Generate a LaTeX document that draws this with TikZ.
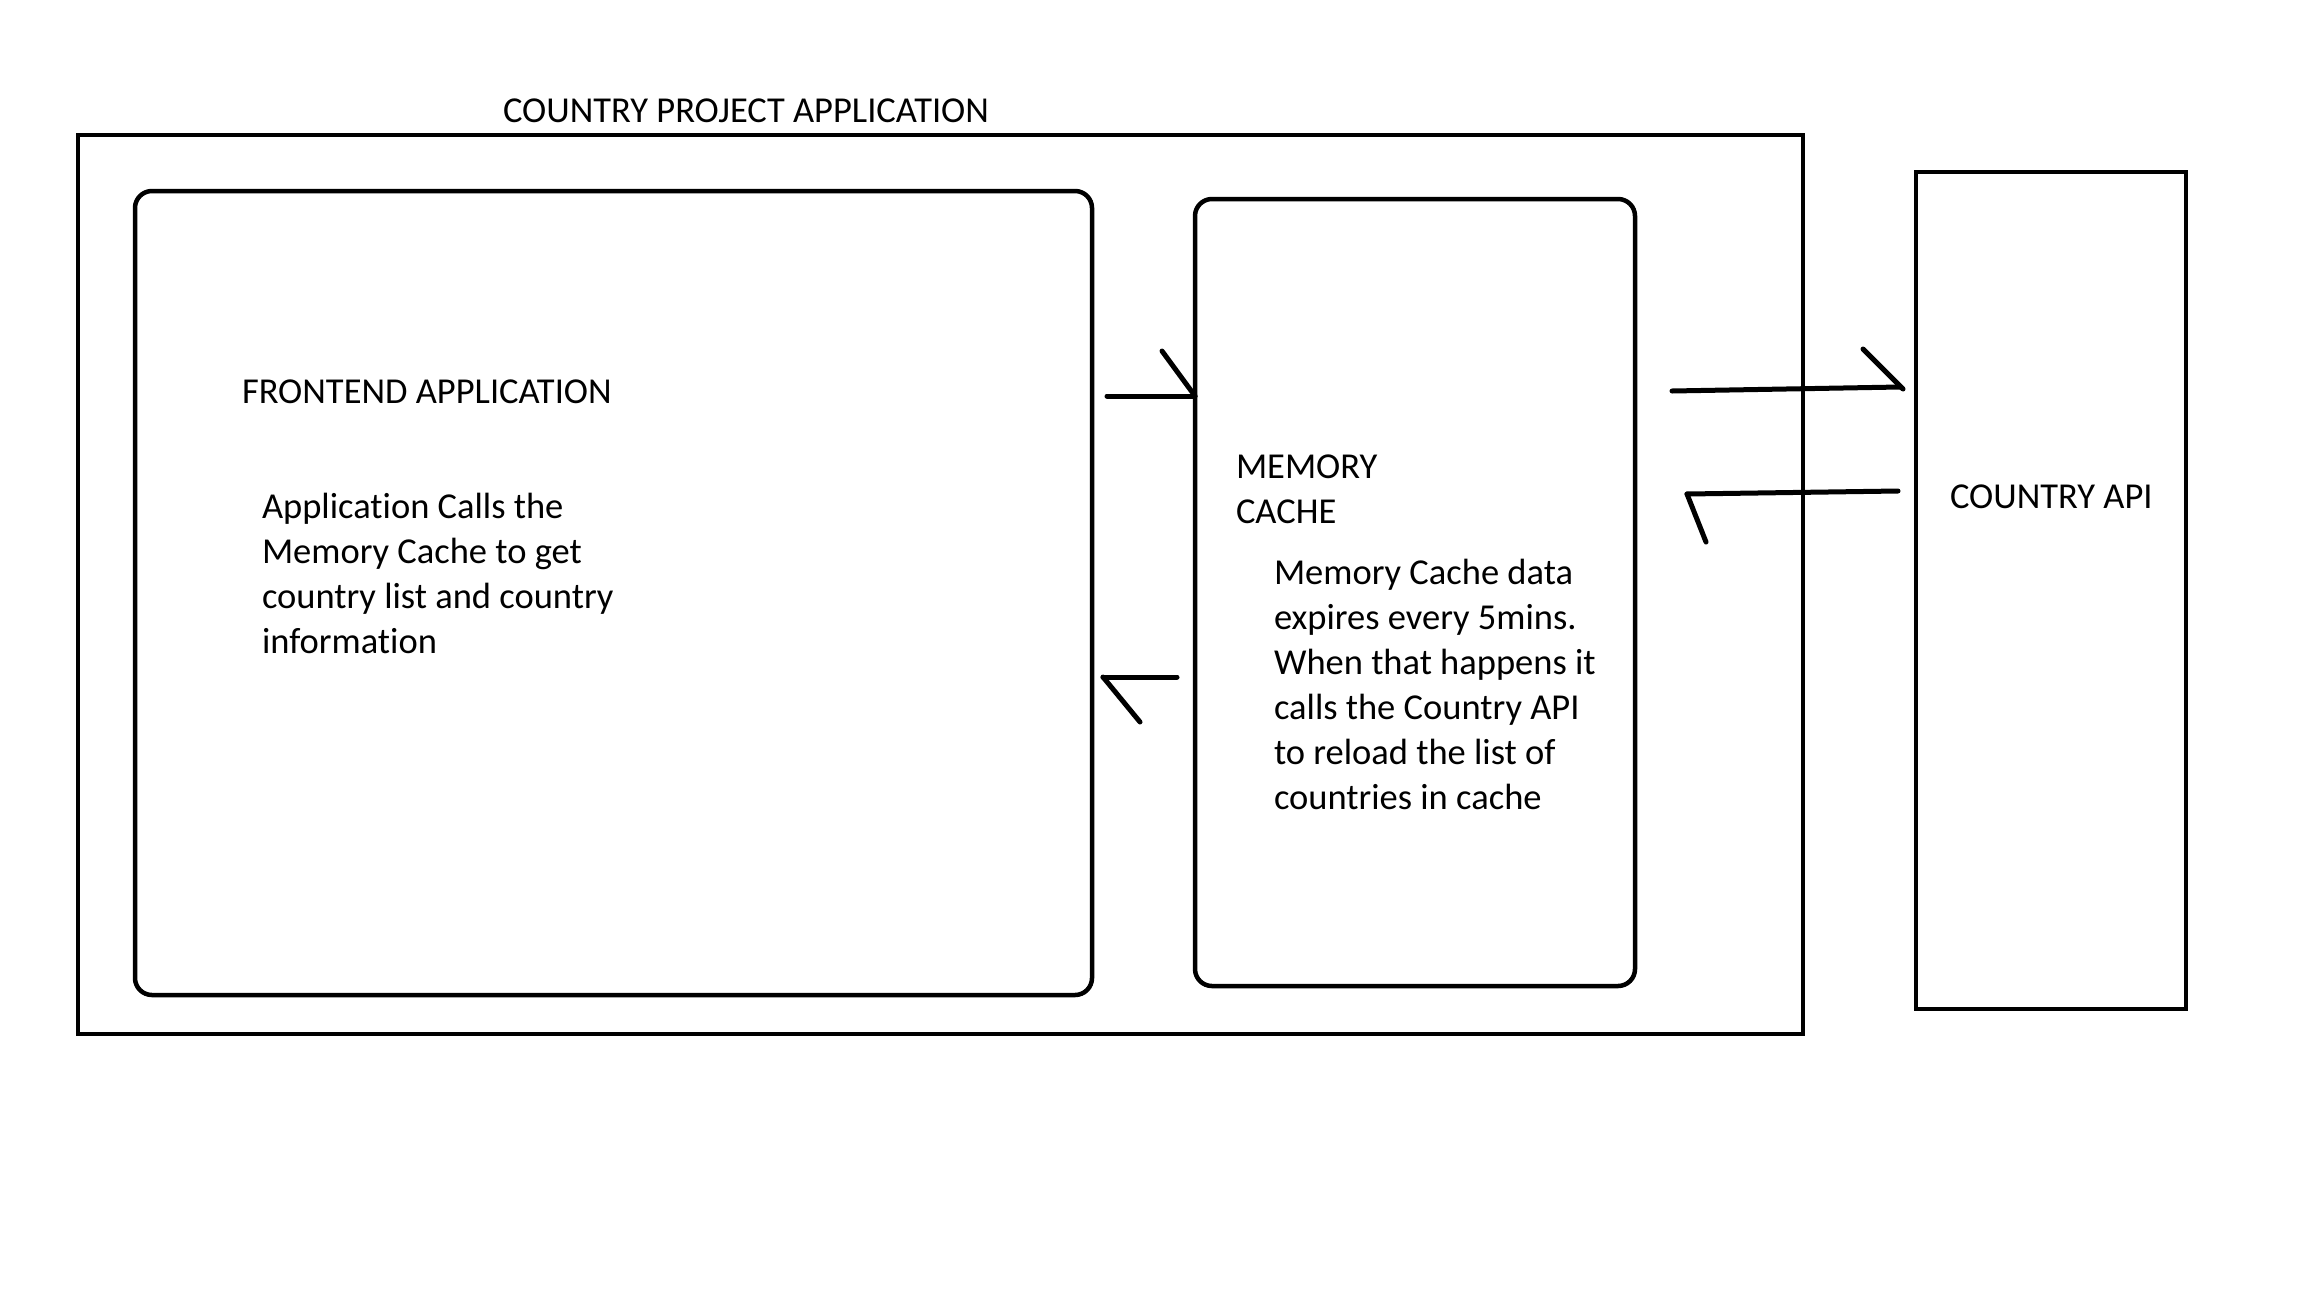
\documentclass[tikz,border=0pt]{standalone}
\usepackage{fontspec}
\setmainfont{Carlito}[Ligatures={NoCommon}]
\begin{document}
\begin{tikzpicture}[x=1pt,y=-1pt,
  box/.style={draw=black, line width=4.5pt, inner sep=0pt, outer sep=0pt, anchor=north west},
  rbox/.style={box, rounded corners=17pt},
  arr/.style={draw=black, line width=5pt, line cap=round},
  lbl/.style={font=\fontsize{36.5}{45}\selectfont, inner sep=0pt, outer sep=0pt, anchor=base west, align=left}]
\useasboundingbox[fill=white] (0,0) rectangle (2304,1296);
% boxes
\node[box, minimum width=1725pt, minimum height=899pt] (outer) at (78,135) {};
\node[rbox, minimum width=957pt, minimum height=804pt] (fe) at (135,191) {};
\node[rbox, minimum width=440pt, minimum height=787pt] (mc) at (1195,199) {};
\node[box, minimum width=270pt, minimum height=837pt] (api) at (1916,172) {};
% texts (anchor at the baseline of the last line)
\node[lbl] (title) at (503,122) {COUNTRY PROJECT APPLICATION};
\node[lbl] (fetitle) at (242,403) {FRONTEND APPLICATION};
\node[lbl] (fetext) at (262,653) {Application Calls the\\Memory Cache to get\\country list and country\\information};
\node[lbl] (mctitle) at (1236,523) {MEMORY\\CACHE};
\node[lbl] (mctext) at (1274,809) {Memory Cache data\\expires every 5mins.\\When that happens it\\calls the Country API\\to reload the list of\\countries in cache};
\node[lbl] (apititle) at (1950,508) {COUNTRY API};
% arrow coordinates
\coordinate (a1s) at (1107,396);
\coordinate (a1h) at (1162,351);
\coordinate (a2s) at (1177,677);
\coordinate (a2e) at (1103,677);
\coordinate (a2h) at (1140,722);
\coordinate (a3s) at (1672,391);
\coordinate (a3h) at (1863,349);
\coordinate (a4s) at (1898,491);
\coordinate (a4e) at (1687,494);
\coordinate (a4h) at (1706,542);
% arrows
\draw[arr] (a1s) -- (mc.west |- a1s);
\draw[arr] (a1h) -- (mc.west |- a1s);
\draw[arr] (a2s) -- (a2e);
\draw[arr] (a2e) -- (a2h);
\draw[arr] (a3s) -- ([xshift=-16pt,yshift=4pt]api.west |- a3s);
\draw[arr] (a3h) -- ([xshift=-13pt,yshift=2pt]api.west |- a3s);
\draw[arr] (a4s) -- (a4e);
\draw[arr] (a4e) -- (a4h);
\end{tikzpicture}
\end{document}
